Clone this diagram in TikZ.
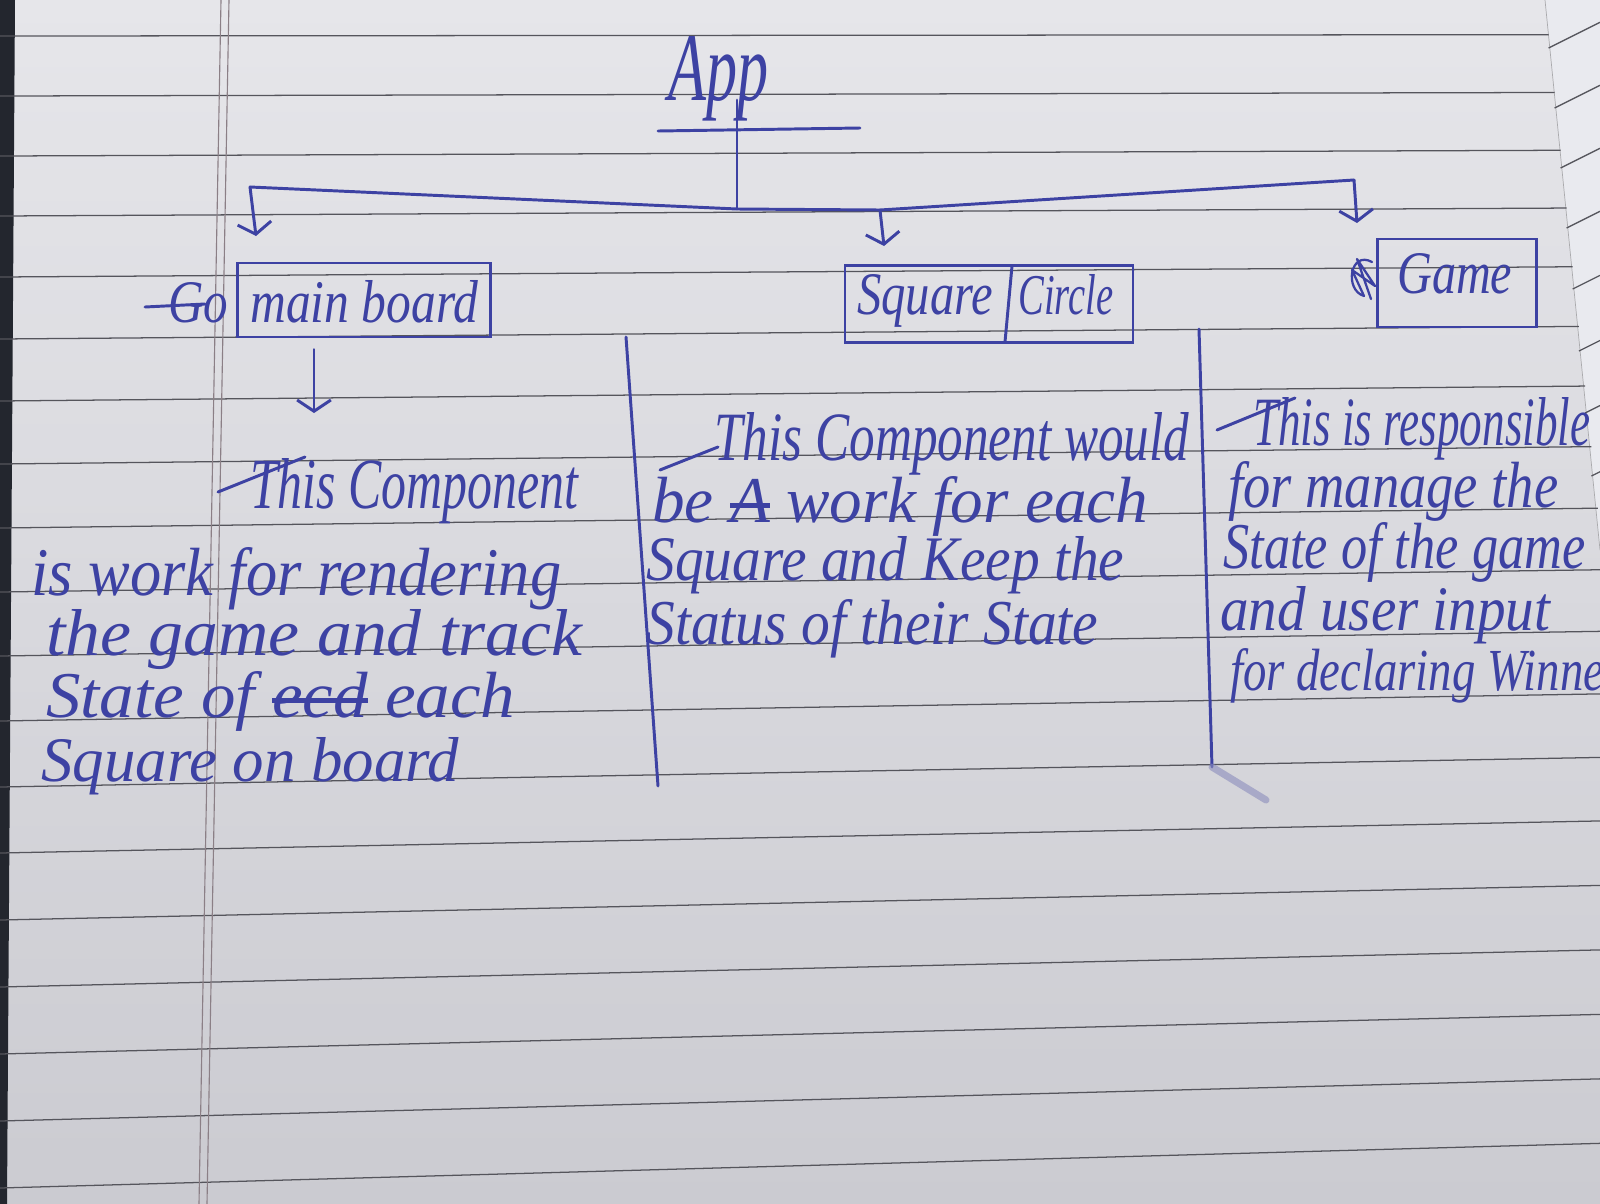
\documentclass[tikz,border=0pt]{standalone}
\usepackage{fontspec}
\setmainfont{Liberation Serif}
\usetikzlibrary{arrows.meta,calc}
% one drawing unit = one pixel of the 1600 x 1204 page
\newlength\pxu
\setlength\pxu{0.025cm}
% handwritten line: italic text set to a given width and ascender height (in page pixels)
\newcommand\hw[3]{\resizebox{#1\pxu}{#2\pxu}{\itshape #3}}
% crossed-out word
\newcommand\strk[1]{\setbox0\hbox{#1}\rlap{\rule[0.22em]{\wd0}{0.07em}}\box0\relax}
\definecolor{paperTop}{HTML}{E6E6EA}
\definecolor{paperBot}{HTML}{CBCBD1}
\definecolor{nextPage}{HTML}{E9EAEF}
\definecolor{ink}{HTML}{3D42A3}
\definecolor{rulegrey}{HTML}{55555C}
\definecolor{margingrey}{HTML}{8B7F86}
\definecolor{coverdark}{HTML}{23262E}
\tikzset{
  pen/.style={draw=ink, line width=2.1pt, line cap=round, line join=round},
  tip/.style={-{Straight Barb[length=8pt,width=24pt]}},
  txt/.style={text=ink, inner sep=0pt, anchor=base west},
  boxnode/.style={draw=ink, line width=2.1pt, inner sep=0pt, rectangle},
  ruling/.style={draw=rulegrey, line width=0.9pt},
  marginline/.style={draw=margingrey, line width=0.8pt},
}
\begin{document}
\begin{tikzpicture}[x=0.025cm,y=-0.025cm]
\useasboundingbox (0,0) rectangle (1600,1204);
\clip (0,0) rectangle (1600,1204);

% paper
\shade[top color=paperTop, bottom color=paperBot] (0cm,0cm) rectangle (40cm,-30.1cm);
% the next page showing at the top right
\fill[nextPage] (1545,0) -- (1600,0) -- (1600,550) -- cycle;
\draw[draw=rulegrey!50, line width=0.5pt] (1545,0) -- (1600,550);
% dark cover along the left edge
\fill[coverdark] (0,0) -- (15,0) -- (7,1204) -- (0,1204) -- cycle;

% ruled lines
\foreach \y in {36,96,156,216,277,339,401,464,528,592,656,721,787,853,920,987,1054,1121,1188} {
  \pgfmathsetmacro\dr{45*(\y/1197)}
  \pgfmathsetmacro\xe{min(1600,1545+0.1*\y)}
  \pgfmathsetmacro\ye{\y-\dr*(\xe/1600)}
  \draw[ruling] (0,\y) -- (\xe,\ye);
}
\foreach \y in {36,96,156,216,277,339,401,464} {
  \pgfmathsetmacro\xe{1545+0.1*\y}
  \pgfmathsetmacro\ys{\y+12}
  \pgfmathsetmacro\yt{\ys-0.5*(1600-\xe)}
  \draw[ruling] (\xe,\ys) -- (1600,\yt);
}
% margin
\draw[marginline] (221,0) -- (199,1204);
\draw[marginline] (229,0) -- (207,1204);

% root
\node[txt] (app) at (668,100) {\hw{100}{64}{App}};
\draw[pen] (658,131) -- (860,128);

\coordinate (hub)  at (737,209);
\coordinate (busL) at (250,187);
\coordinate (busM) at (880,210);
\coordinate (busR) at (1354,180);
\coordinate (tipL) at (256,236);
\coordinate (tipM) at (884,246);
\coordinate (tipR) at (1357,223);
\draw[pen] (app.base -| hub) -- (hub);
\draw[pen] (busL) -- (hub) -- (busM) -- (busR);
\draw[pen,tip] (busL) -- (tipL);
\draw[pen,tip] (busM) -- (tipM);
\draw[pen,tip] (busR) -- (tipR);

% main board
\node[boxnode, minimum width=253\pxu, minimum height=74\pxu] (mbbox) at (364,300) {};
\node[txt] (go) at (168,322) {\hw{60}{40}{Go}};
\draw[pen] (145,307) -- (205,304);
\node[txt] (mb) at (250,322) {\hw{228}{42}{main board}};
\coordinate (mbT) at (314,413);
\draw[pen,tip] (mbbox.south -| mbT) ++(0,11) -- (mbT);

% square / circle
\node[boxnode, minimum width=288\pxu, minimum height=77\pxu] (scbox) at (989,304) {};
\node[txt] (sq) at (857,314) {\hw{136}{40}{Square}};
\node[txt] (ci) at (1018,314) {\hw{95}{40}{Circle}};
\draw[pen] (1012,266) -- (1005,342);

% game
\node[boxnode, minimum width=159\pxu, minimum height=88\pxu] (gmbox) at (1457,283) {};
\node[txt] (gm) at (1397,293) {\hw{115}{40}{Game}};
\draw[pen, line width=1.6pt] (1372,262) .. controls (1350,250) and (1344,290) .. (1364,296)
  -- (1352,270) -- (1375,286) -- (1357,259) -- (1371,299);

% column rules
\draw[pen] (626,337) -- (658,786);
\draw[pen] (1199,329) -- (1212,767);
\draw[line width=5pt, draw=ink!45!paperBot, line cap=round, opacity=0.6] (1212,767) -- (1266,800);

% notes under main board
\draw[pen] (218,492) -- (305,457);
\node[txt] (l1) at (250,508) {\hw{328}{50}{This Component}};
\node[txt] (l2) at (31,595) {\hw{530}{48}{is work for rendering}};
\node[txt] (l3) at (46,655) {\hw{536}{46}{the game and track}};
\node[txt] (l4) at (46,717) {\hw{469}{46}{State of \strk{ecd} each}};
\node[txt] (l5) at (41,781) {\hw{418}{44}{Square on board}};

% notes under square / circle
\draw[pen] (660,470) -- (718,447);
\node[txt] (m1) at (714,460) {\hw{475}{48}{This Component would}};
\node[txt] (m2) at (652,522) {\hw{496}{46}{be \strk{A} work for each}};
\node[txt] (m3) at (646,580) {\hw{478}{44}{Square and Keep the}};
\node[txt] (m4) at (646,644) {\hw{452}{45}{Status of their State}};

% notes under game
\draw[pen] (1217,430) -- (1295,398);
\node[txt] (r1) at (1253,445) {\hw{337}{48}{This is responsible}};
\node[txt] (r2) at (1228,507) {\hw{330}{46}{for manage the}};
\node[txt] (r3) at (1223,568) {\hw{362}{46}{State of the game}};
\node[txt] (r4) at (1220,630) {\hw{330}{44}{and user input}};
\node[txt] (r5) at (1230,690) {\hw{392}{42}{for declaring Winner}};
\end{tikzpicture}
\end{document}
